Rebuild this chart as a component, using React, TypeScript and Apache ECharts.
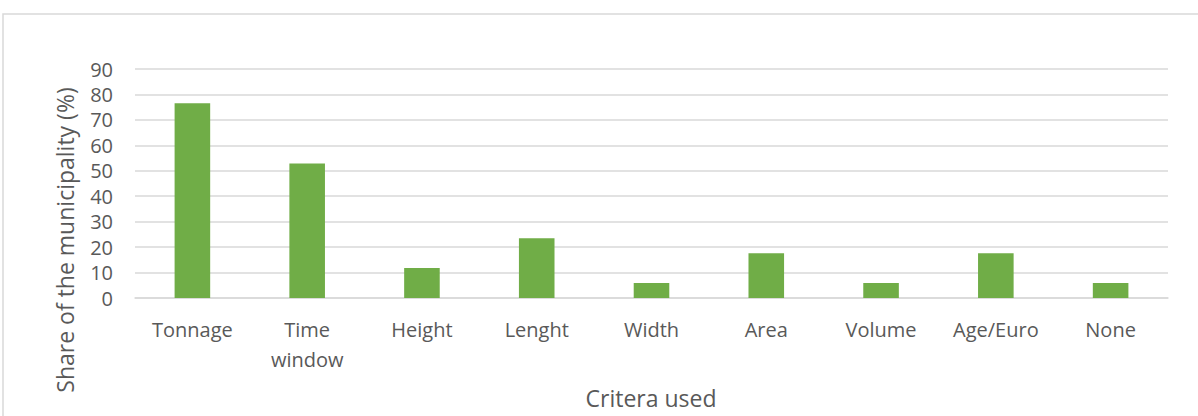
import React, { useEffect, useRef } from "react";
import * as echarts from "echarts";

const categories = ["Tonnage", "Time\nwindow", "Height", "Lenght", "Width", "Area", "Volume", "Age/Euro", "None"];
const shares = [76.5, 52.9, 11.8, 23.5, 5.9, 17.6, 5.9, 17.6, 5.9];
const yTicks = [0, 10, 20, 30, 40, 50, 60, 70, 80, 90];

const FONT = "'Open Sans', sans-serif";
const TXT = "#595959";

export default function App() {
  const ref = useRef<HTMLDivElement>(null);
  useEffect(() => {
    document.body.style.margin = "0";
    const chart = echarts.init(ref.current!, undefined, { renderer: "svg" });
    chart.setOption({
      animation: false,
      backgroundColor: "#ffffff",
      grid: { left: 135, right: 30, top: 69, bottom: 118, containLabel: false },
      xAxis: {
        type: "category",
        data: categories,
        axisLine: { lineStyle: { color: "#d9d9d9", width: 1.5 } },
        axisTick: { show: false },
        axisLabel: { color: TXT, fontFamily: FONT, fontSize: 20, lineHeight: 30, margin: 16, interval: 0 },
      },
      yAxis: {
        type: "value",
        min: yTicks[0],
        max: yTicks[yTicks.length - 1],
        interval: 10,
        axisLine: { show: false },
        axisTick: { show: false },
        splitLine: { lineStyle: { color: "#d9d9d9", width: 1.5 } },
        axisLabel: { color: TXT, fontFamily: FONT, fontSize: 20, margin: 22 },
      },
      graphic: [
        {
          type: "rect",
          shape: { x: 3, y: 14, width: 1300, height: 500 },
          style: { fill: "none", stroke: "#d9d9d9", lineWidth: 1.5 },
          silent: true,
        },
        {
          type: "text",
          x: 65,
          y: 240,
          rotation: Math.PI / 2,
          style: {
            text: "Share of the municipality (%)",
            fill: TXT,
            font: `23px ${FONT}`,
            align: "center",
            verticalAlign: "middle",
          },
        },
        {
          type: "text",
          x: 651,
          y: 398,
          style: {
            text: "Critera used",
            fill: TXT,
            font: `23px ${FONT}`,
            align: "center",
            verticalAlign: "middle",
          },
        },
      ],
      series: [
        {
          type: "bar",
          data: shares,
          barWidth: "31%",
          itemStyle: { color: "#70ad47" },
        },
      ],
    });
    return () => chart.dispose();
  }, []);
  return <div ref={ref} style={{ width: 1198, height: 416 }} />;
}
